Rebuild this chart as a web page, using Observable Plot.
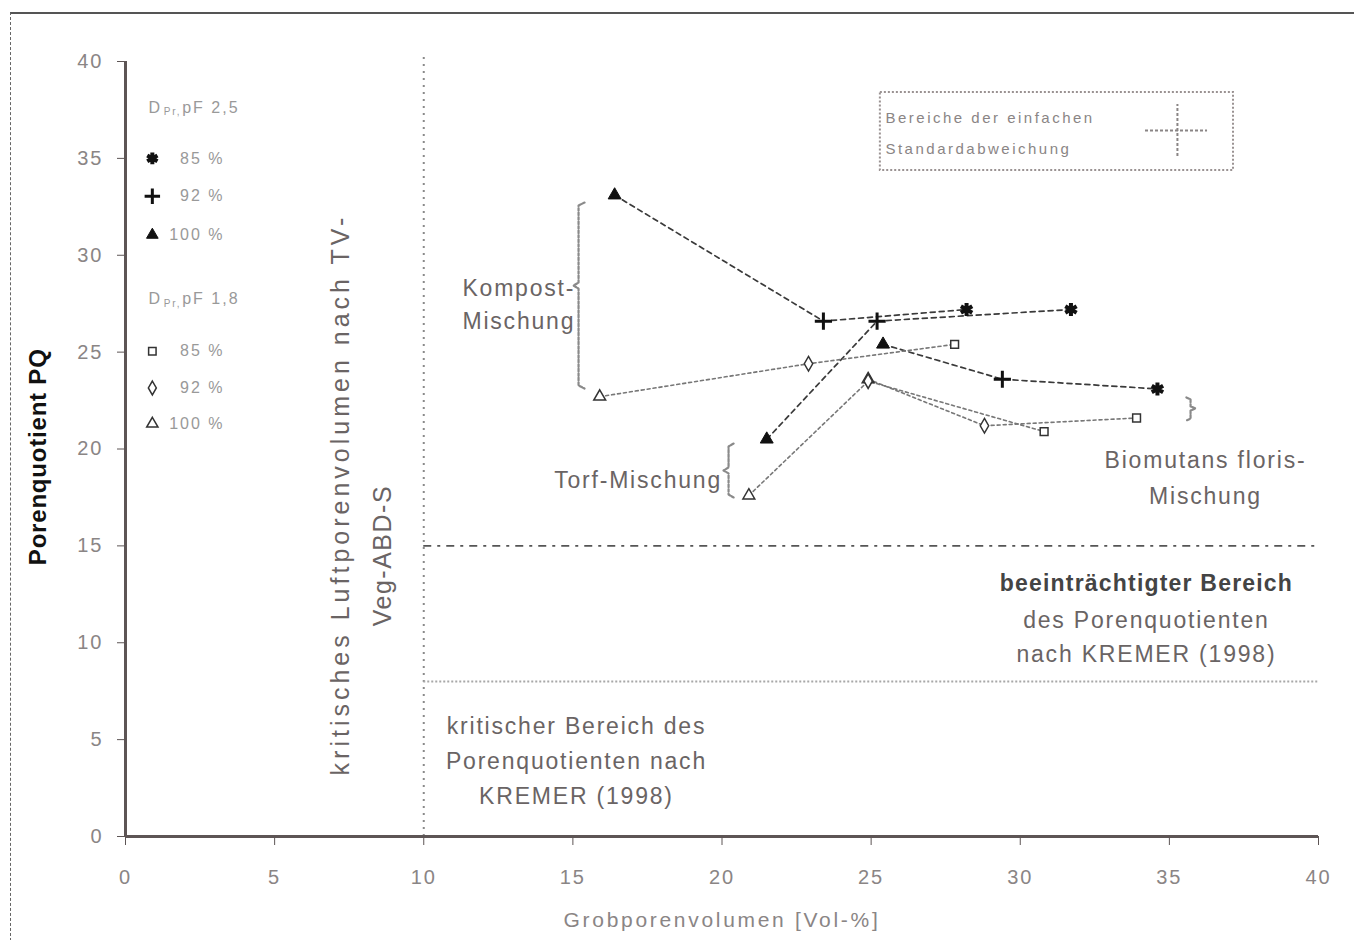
<!DOCTYPE html>
<html><head><meta charset="utf-8">
<script src="https://cdn.jsdelivr.net/npm/d3@7"></script>
<script src="https://cdn.jsdelivr.net/npm/@observablehq/plot@0.6"></script>
<style>
html,body{margin:0;padding:0;background:#fff;}
#wrap{position:relative;width:1354px;height:940px;overflow:hidden;background:#fff;}
#frame{position:absolute;left:10px;top:12px;right:-6px;bottom:-6px;border-top:2px solid #555;border-left:1.5px dashed #666;pointer-events:none;}
#wrap svg text{letter-spacing:1.8px;}
#wrap g[aria-description="ticks"] text{letter-spacing:2px;}
#wrap g[aria-description="rot1"] text{letter-spacing:4px;}
#wrap g[aria-description="rot2"] text{letter-spacing:1.5px;}
#wrap g[aria-description="legend"] text{letter-spacing:2px;}
#wrap g[aria-description="box"] text{letter-spacing:2.5px;}
#wrap g[aria-description="xtitle"] text{letter-spacing:2.7px;}
#wrap g[aria-description="ytitle"] text{letter-spacing:0.8px;}
#wrap g[aria-description="bold"] text{letter-spacing:1.2px;}
</style>
</head><body>
<div id="wrap"><div id="chart"></div><div id="frame"></div></div>
<script>
// ---- data ----
const xTicks = [0, 5, 10, 15, 20, 25, 30, 35, 40];
const yTicks = [0, 5, 10, 15, 20, 25, 30, 35, 40];
const densities = ["100 %", "92 %", "85 %"];
const mixtures = ["Kompost", "Torf", "Biomutans"];

const kompost25X = [16.4, 23.4, 28.2];
const kompost25Y = [33.1, 26.6, 27.2];
const kompost18X = [15.9, 22.9, 27.8];
const kompost18Y = [22.7, 24.4, 25.4];
const torf25X = [21.5, 25.2, 31.7];
const torf25Y = [20.5, 26.6, 27.2];
const torf18X = [20.9, 24.9, 30.8];
const torf18Y = [17.6, 23.5, 20.9];
const bio25X = [25.4, 29.4, 34.6];
const bio25Y = [25.4, 23.6, 23.1];
const bio18X = [24.9, 28.8, 33.9];
const bio18Y = [23.6, 21.2, 21.6];

// reference thresholds
const criticalAirVolume = 10;
const impairedPQ = 15;
const criticalPQ = 8;

// legend
const legendLabels = ["85 %", "92 %", "100 %"];
const legendY25 = [35.0, 33.05, 31.05];
const legendY18 = [25.05, 23.15, 21.3];
const legendSym25 = ["asterisk", "plus", "triangle"];
const legendSym18 = ["square", "diamond", "triangle"];
const legendHeadY = [37.63, 27.77];
const legendHeadText = ["pF 2,5", "pF 1,8"];

// axis titles
const xTitle = "Grobporenvolumen [Vol-%]";
const yTitle = "Porenquotient PQ";

// braces (data units)
const braceKompostX = [15.39, 15.19, 15.19, 15.02, 15.19, 15.19, 15.39];
const braceKompostY = [32.72, 32.57, 28.59, 28.44, 28.28, 23.28, 23.12];
const braceTorfX = [20.39, 20.22, 20.22, 20.05, 20.22, 20.22, 20.39];
const braceTorfY = [20.28, 20.13, 19.05, 18.89, 18.74, 17.65, 17.5];
const braceBioX = [35.57, 35.71, 35.71, 35.88, 35.71, 35.71, 35.57];
const braceBioY = [22.66, 22.56, 22.2, 22.09, 21.99, 21.57, 21.47];

// standard deviation legend box
const sdBoxX = [25.31, 37.15];
const sdBoxY = [34.37, 38.4];
const sdCrossH = [34.2, 36.28];
const sdCrossV = [35.1, 37.78];
const sdCrossCenter = [35.27, 36.44];

// ---- build tables ----
const symbols25 = {"100 %": "triangle", "92 %": "plus", "85 %": "asterisk"};
const symbols18 = {"100 %": "triangle", "92 %": "diamond", "85 %": "square"};
const groups = [
  ["Kompost", "2,5", kompost25X, kompost25Y],
  ["Kompost", "1,8", kompost18X, kompost18Y],
  ["Torf", "2,5", torf25X, torf25Y],
  ["Torf", "1,8", torf18X, torf18Y],
  ["Biomutans", "2,5", bio25X, bio25Y],
  ["Biomutans", "1,8", bio18X, bio18Y]
];
const points = [];
for (const [mix, pF, xs, ys] of groups) {
  xs.forEach((x, i) => points.push({mix, pF, series: mix + " " + pF, density: densities[i], x, y: ys[i]}));
}
const braces = [];
[["K", braceKompostX, braceKompostY], ["T", braceTorfX, braceTorfY], ["B", braceBioX, braceBioY]]
  .forEach(([id, xs, ys]) => xs.forEach((x, i) => braces.push({id, x, y: ys[i]})));

const grey = "#6a6464";
const lightText = "#8a8585";
const font = "Liberation Sans, Arial, sans-serif";

function symR(s) { return s === "triangle" ? 4.8 : s === "asterisk" ? 6.2 : 5.6; }
function symW(s) { return s === "triangle" ? 1 : s === "asterisk" ? 4 : 3; }

const dotMarks = [];
for (const pF of ["2,5", "1,8"]) {
  for (const d of densities) {
    const sym = pF === "2,5" ? symbols25[d] : symbols18[d];
    const data = points.filter(p => p.pF === pF && p.density === d);
    if (pF === "2,5") {
      const filled = sym === "triangle";
      dotMarks.push(Plot.dot(data, {x: "x", y: "y", symbol: () => sym, r: symR(sym),
        fill: filled ? "#111" : "none", stroke: "#111", strokeWidth: symW(sym)}));
    } else {
      dotMarks.push(Plot.dot(data, {x: "x", y: "y", symbol: () => sym, r: 4.4,
        fill: "white", stroke: "#333", strokeWidth: 1.5}));
    }
  }
}

const legend25 = legendLabels.map((t, i) => ({t, y: legendY25[i], s: legendSym25[i]}));
const legend18 = legendLabels.map((t, i) => ({t, y: legendY18[i], s: legendSym18[i]}));
const legendDotMarks = [];
for (const item of legend25) {
  const filled = item.s === "triangle";
  legendDotMarks.push(Plot.dot([item], {x: 0.9, y: "y", symbol: () => item.s, r: symR(item.s) * 0.9,
    fill: filled ? "#111" : "none", stroke: "#111", strokeWidth: symW(item.s)}));
}
for (const item of legend18) {
  legendDotMarks.push(Plot.dot([item], {x: 0.9, y: "y", symbol: () => item.s, r: 4.2,
    fill: "white", stroke: "#333", strokeWidth: 1.5}));
}

const chart = Plot.plot({
  width: 1354, height: 940,
  marginLeft: 125, marginRight: 36, marginTop: 61, marginBottom: 104,
  x: {domain: [0, 40]},
  y: {domain: [0, 40]},
  symbol: {type: "identity"},
  style: {fontFamily: font, fontSize: "20px", color: "#555", background: "white"},
  marks: [
    // reference lines
    Plot.ruleX([criticalAirVolume], {y1: 0, y2: 40.3, stroke: "#8a8a8a", strokeWidth: 2, strokeDasharray: "2,5"}),
    Plot.ruleY([impairedPQ], {x1: criticalAirVolume, x2: 40, stroke: "#555", strokeWidth: 1.8, strokeDasharray: "8,6,3,6"}),
    Plot.ruleY([criticalPQ], {x1: criticalAirVolume, x2: 40, stroke: "#a8a8a8", strokeWidth: 2, strokeDasharray: "2,2"}),
    // axes
    Plot.ruleY([0], {stroke: "#5d5555", strokeWidth: 3}),
    Plot.ruleX([0], {stroke: "#5d5555", strokeWidth: 3}),
    Plot.axisX({ticks: xTicks, tickSize: 9, tickPadding: 24, label: null, stroke: "#5d5555", fill: lightText, fontSize: 20, ariaDescription: "ticks"}),
    Plot.axisY({ticks: yTicks, tickSize: 8, tickPadding: 14, label: null, stroke: "#5d5555", fill: lightText, fontSize: 20, ariaDescription: "ticks"}),
    Plot.text([xTitle], {x: 20, y: -4.34, fontSize: 21, fill: lightText, ariaDescription: "xtitle"}),
    Plot.text([yTitle], {x: -2.92, y: 19.6, rotate: -90, fontSize: 24, fontWeight: "bold", fill: "#111", ariaDescription: "ytitle"}),
    // series lines
    Plot.line(points.filter(p => p.pF === "2,5"), {x: "x", y: "y", z: "series", stroke: "#3a3a3a", strokeWidth: 1.7, strokeDasharray: "5,4"}),
    Plot.line(points.filter(p => p.pF === "1,8"), {x: "x", y: "y", z: "series", stroke: "#777", strokeWidth: 1.6, strokeDasharray: "3,3"}),
    ...dotMarks,
    // braces
    Plot.line(braces, {x: "x", y: "y", z: "id", stroke: "#8a8a8a", strokeWidth: 2.2, strokeDasharray: "3,1.5"}),
    // annotations
    Plot.text(["Kompost-\nMischung"], {x: 15.08, y: 27.59, textAnchor: "end", lineHeight: 1.43, fontSize: 23, fill: grey}),
    Plot.text(["Torf-Mischung"], {x: 20.0, y: 18.37, textAnchor: "end", fontSize: 23, fill: grey}),
    Plot.text(["Biomutans floris-\nMischung"], {x: 36.21, y: 18.68, lineHeight: 1.56, fontSize: 23, fill: grey}),
    Plot.text(["kritischer Bereich des\nPorenquotienten nach\nKREMER (1998)"], {x: 15.12, y: 4.08, lineHeight: 1.52, fontSize: 23, fill: grey}),
    Plot.text(["beeinträchtigter Bereich"], {x: 34.23, y: 13.06, fontSize: 23, fontWeight: "bold", fill: "#444", ariaDescription: "bold"}),
    Plot.text(["des Porenquotienten\nnach KREMER (1998)"], {x: 34.23, y: 10.45, lineHeight: 1.46, fontSize: 23, fill: grey}),
    Plot.text(["kritisches Luftporenvolumen nach TV-"], {x: 7.24, y: 17.65, rotate: -90, fontSize: 25, fill: grey, ariaDescription: "rot1"}),
    Plot.text(["Veg-ABD-S"], {x: 8.62, y: 14.5, rotate: -90, fontSize: 25, fill: grey, ariaDescription: "rot2"}),
    // left legend
    Plot.text(legendHeadY, {x: 0.77, y: d => d, text: () => "D", textAnchor: "start", fontSize: 16, fill: "#999", ariaDescription: "legend"}),
    Plot.text(legendHeadY, {x: 1.28, y: d => d - 0.25, text: () => "Pr,", textAnchor: "start", fontSize: 10, fill: "#999"}),
    Plot.text(legendHeadY, {x: 1.9, y: d => d, text: (d, i) => legendHeadText[i], textAnchor: "start", fontSize: 16, fill: "#999", ariaDescription: "legend"}),
    ...legendDotMarks,
    Plot.text(legend25, {x: 3.32, y: "y", text: "t", textAnchor: "end", fontSize: 16, fill: "#999", ariaDescription: "legend"}),
    Plot.text(legend18, {x: 3.32, y: "y", text: "t", textAnchor: "end", fontSize: 16, fill: "#999", ariaDescription: "legend"}),
    // standard deviation legend box
    Plot.rect([0], {x1: sdBoxX[0], x2: sdBoxX[1], y1: sdBoxY[0], y2: sdBoxY[1], fill: "none", stroke: "#9a9292", strokeWidth: 2, strokeDasharray: "2,2"}),
    Plot.text(["Bereiche der einfachen", "Standardabweichung"], {x: 25.48, y: (d, i) => [37.06, 35.5][i], textAnchor: "start", fontSize: 15, fill: "#8a8585", ariaDescription: "box"}),
    Plot.ruleY([sdCrossCenter[1]], {x1: sdCrossH[0], x2: sdCrossH[1], stroke: "#8a8585", strokeWidth: 2, strokeDasharray: "3,2"}),
    Plot.ruleX([sdCrossCenter[0]], {y1: sdCrossV[0], y2: sdCrossV[1], stroke: "#8a8585", strokeWidth: 2, strokeDasharray: "3,2"})
  ]
});
document.getElementById("chart").appendChild(chart);
</script>
</body></html>
